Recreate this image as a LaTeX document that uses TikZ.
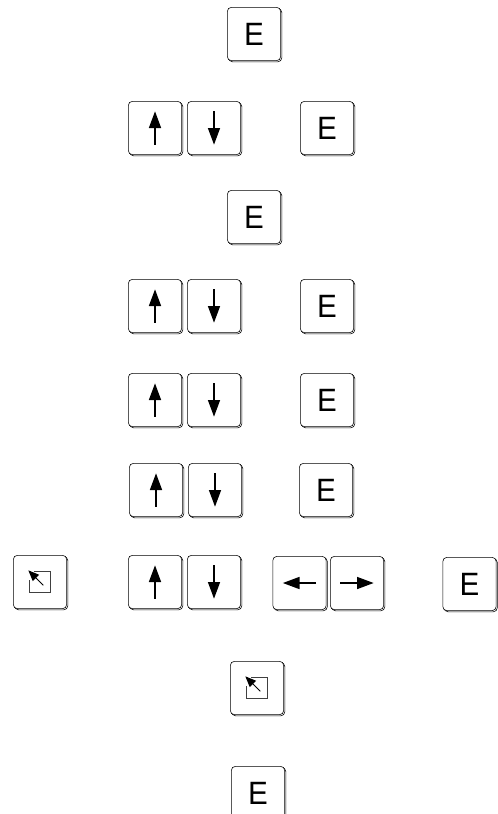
\documentclass[tikz,border=0pt]{standalone}
\usepackage{fontspec}
\setsansfont{TeX Gyre Heros}
\usetikzlibrary{arrows.meta,shadows}

\newcommand{\keyup}[1]{\draw[keyarrow] ([yshift=-0.5cm]#1.center) -- ([yshift=0.5cm]#1.center);}
\newcommand{\keydown}[1]{\draw[keyarrow] ([yshift=0.5cm]#1.center) -- ([yshift=-0.5cm]#1.center);}
\newcommand{\keyleft}[1]{\draw[keyarrow] ([xshift=0.5cm]#1.center) -- ([xshift=-0.5cm]#1.center);}
\newcommand{\keyright}[1]{\draw[keyarrow] ([xshift=-0.5cm]#1.center) -- ([xshift=0.5cm]#1.center);}
\newcommand{\keyhome}[1]{%
\draw[line width=0.4pt, black!75] ([shift={(-0.17cm,0.315cm)}]#1.center) -- ++(0.485cm,0cm) -- ++(0cm,-0.63cm) -- ++(-0.63cm,0cm) -- ++(0cm,0.38cm);
\draw[line width=0.8pt, -{Triangle[length=0.32cm, width=0.26cm]}] ([shift={(0.1cm,-0.1cm)}]#1.center) -- ([shift={(-0.35cm,0.35cm)}]#1.center);}

\begin{document}
\begin{tikzpicture}[x=0.03cm, y=-0.03cm,
  key/.style={draw, fill=white, rounded corners=3.5pt, minimum size=1.6cm, inner sep=0pt, line width=0.5pt,
    font=\sffamily\fontsize{26}{30}\selectfont, copy shadow={shadow xshift=1pt, shadow yshift=-1pt}},
  keyarrow/.style={line width=1.3pt, -{Triangle[length=0.5cm, width=0.36cm]}}]
\useasboundingbox (0,0) rectangle (497,814);

\node[key] (e1) at (254,34) {E};

\node[key] (up1) at (155,128) {};
\node[key] (dn1) at (214,128) {};
\node[key] (e2) at (327,128) {E};
\keyup{up1} \keydown{dn1}

\node[key] (e3) at (254,217) {E};

\node[key] (up2) at (155,306) {};
\node[key] (dn2) at (214,306) {};
\node[key] (e4) at (327,306) {E};
\keyup{up2} \keydown{dn2}

\node[key] (up3) at (155,400) {};
\node[key] (dn3) at (214,400) {};
\node[key] (e5) at (327,400) {E};
\keyup{up3} \keydown{dn3}

\node[key] (up4) at (156,490) {};
\node[key] (dn4) at (215,490) {};
\node[key] (e6) at (326,490) {E};
\keyup{up4} \keydown{dn4}

\node[key] (hm1) at (40,582) {};
\node[key] (up5) at (155,582) {};
\node[key] (dn5) at (214,582) {};
\node[key] (lt1) at (299.5,583) {};
\node[key] (rt1) at (357,583) {};
\node[key] (e7) at (469.5,584) {E};
\keyhome{hm1} \keyup{up5} \keydown{dn5} \keyleft{lt1} \keyright{rt1}

\node[key] (hm2) at (257,688) {};
\keyhome{hm2}

\node[key] (e8) at (258,793) {E};
\end{tikzpicture}
\end{document}
